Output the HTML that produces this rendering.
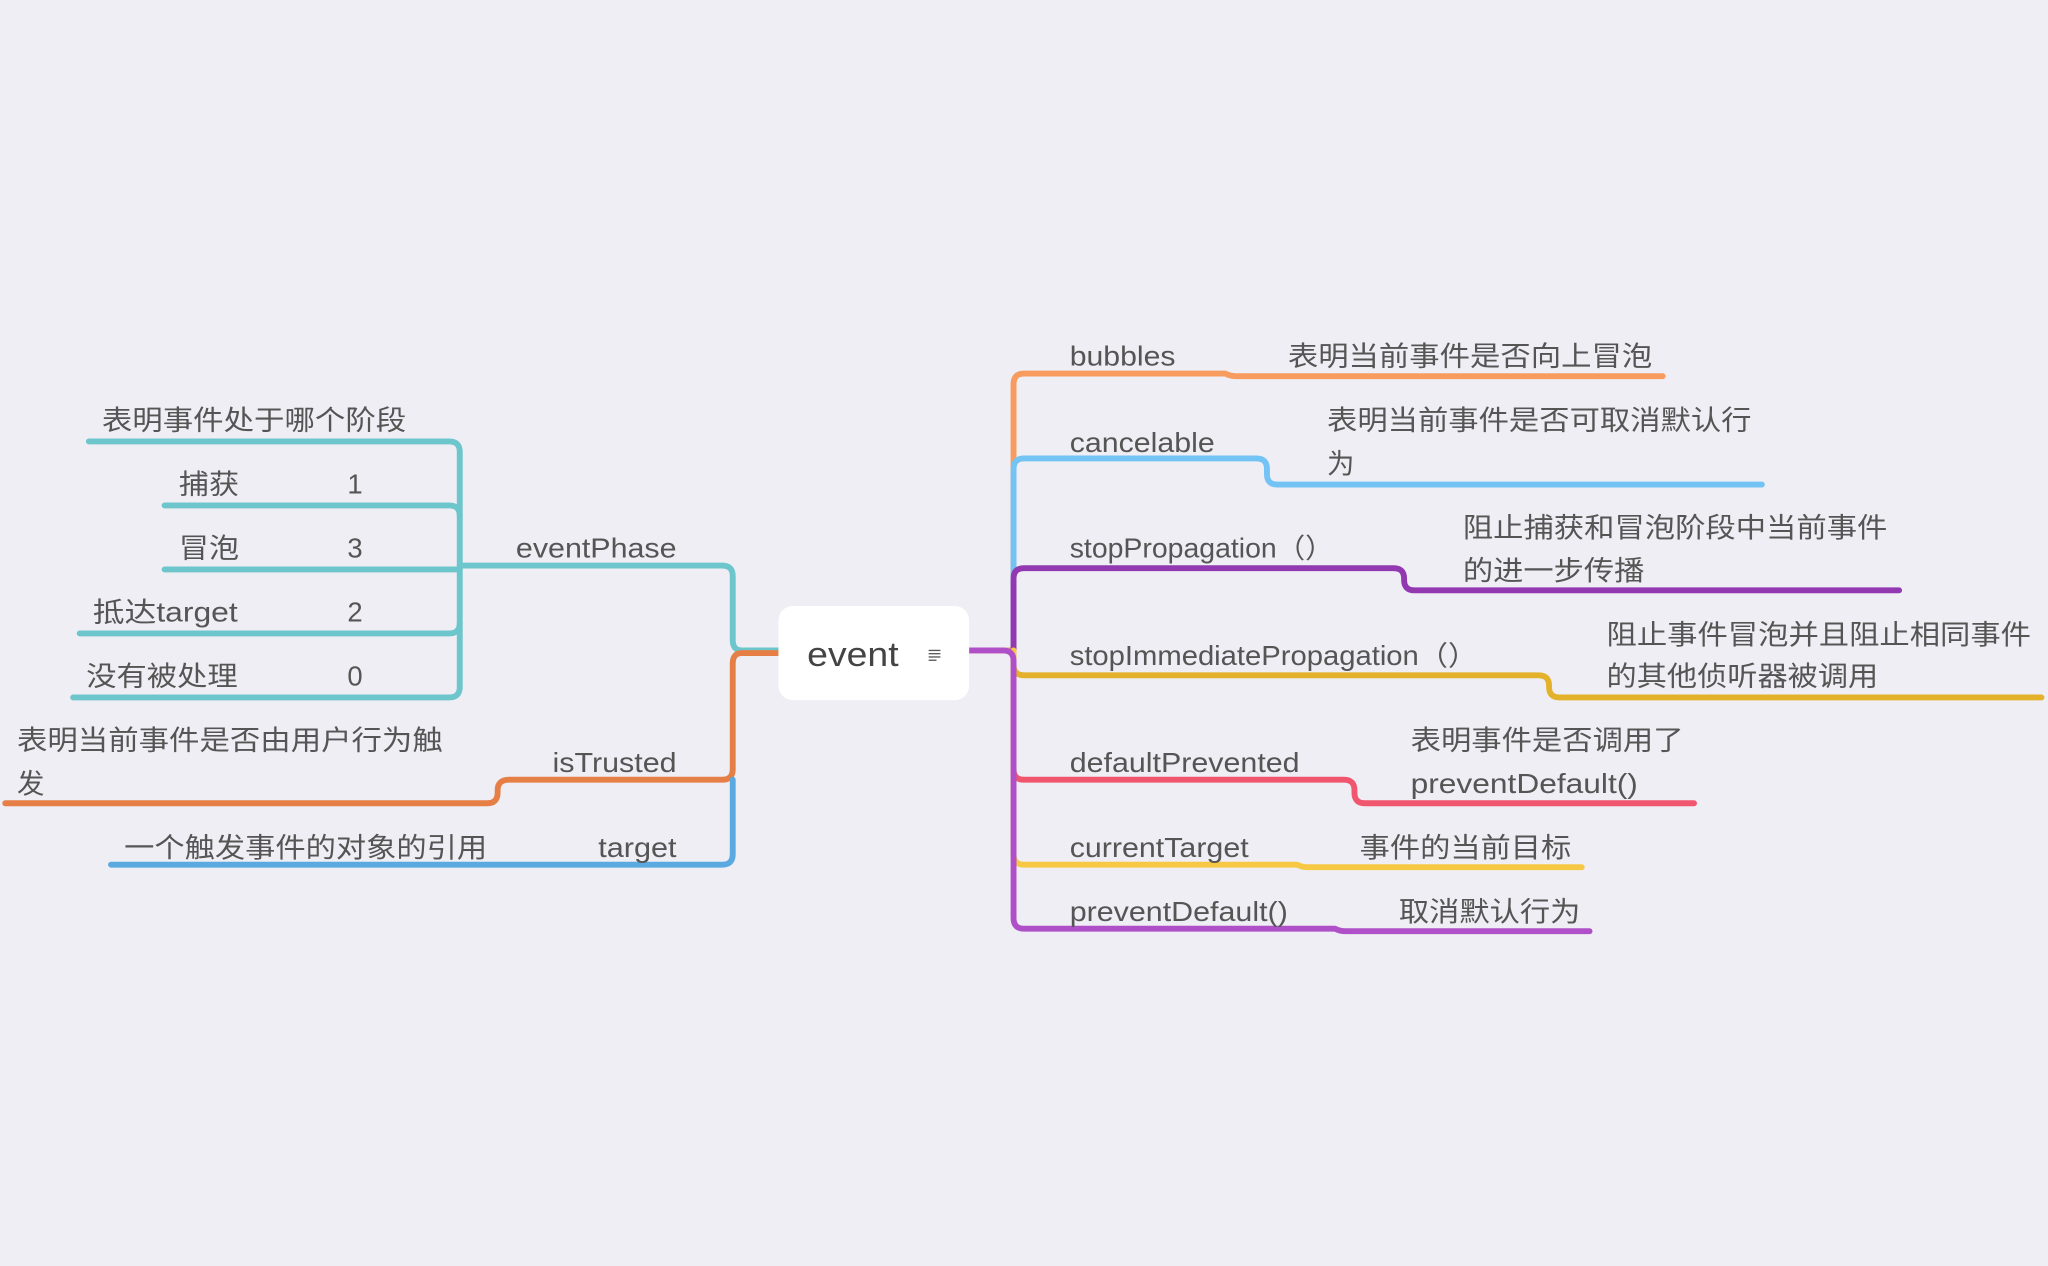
<!DOCTYPE html>
<html><head><meta charset="utf-8"><style>
html,body{margin:0;padding:0;background:#efeef4;}
svg{display:block;}
text{font-family:"Liberation Sans","Noto Sans CJK SC",sans-serif;fill:#555;font-size:21px;}
path{fill:none;stroke-width:4.5;stroke-linecap:round;stroke-linejoin:round;}
</style></head><body>
<svg width="2048" height="1266" viewBox="0 0 1568 969.3" preserveAspectRatio="none" xmlns="http://www.w3.org/2000/svg">
<rect width="1568" height="970" fill="#efeef4"/>
<path stroke="#6cc6cc" d="M596 498 H568 Q561 498 561 490 V441 Q561 433 553 433 H352"/>
<path stroke="#6cc6cc" d="M68 338 H344 Q352 338 352 346 V526 Q352 534 344 534 H56"/>
<path stroke="#6cc6cc" d="M126 387 H344 Q352 387 352 395"/>
<path stroke="#6cc6cc" d="M126 436 H352"/>
<path stroke="#6cc6cc" d="M61 485 H344 Q352 485 352 477"/>
<path stroke="#e57f45" d="M596 500 H568 Q561 500 561 508 V589 Q561 597 553 597 H390 Q381 597 381 605 V607 Q381 615 373 615 H4"/>
<path stroke="#5aa9e0" d="M561 597 V654 Q561 662 553 662 H85"/>
<path stroke="#f79b5e" d="M742 498 H776 V294 Q776 286 784 286 H938 Q942 288 946 288 H1273"/>
<path stroke="#74c3f5" d="M776 498 V359 Q776 351 784 351 H962 Q970 351 970 359 V363 Q970 371 978 371 H1349"/>
<path stroke="#9238b0" d="M776 498 V443 Q776 435 784 435 H1067 Q1075 435 1075 443 V444 Q1075 452 1083 452 H1454"/>
<path stroke="#e3b22a" d="M776 498 V509 Q776 517 784 517 H1178 Q1186 517 1186 525 V526 Q1186 534 1194 534 H1563"/>
<path stroke="#f0566e" d="M776 498 V589 Q776 597 784 597 H1029 Q1037 597 1037 605 V607 Q1037 615 1045 615 H1297"/>
<path stroke="#f7c843" d="M776 498 V654 Q776 662 784 662 H993 Q997 664 1001 664 H1211"/>
<path stroke="#b050c8" d="M742 498 H768 Q776 498 776 506 V703 Q776 711 784 711 H1022 Q1026 713 1030 713 H1217"/>
<rect x="596" y="464" width="146" height="72" rx="11" fill="#fff"/>
<text x="618" y="510" style="font-size:26px;fill:#444" textLength="70" lengthAdjust="spacingAndGlyphs">event</text>
<g stroke="#555" stroke-width="1"><line x1="711" y1="498" x2="720" y2="498"/><line x1="711" y1="500.5" x2="720" y2="500.5"/><line x1="711" y1="503" x2="720" y2="503"/><line x1="711" y1="505.5" x2="717" y2="505.5"/></g>
<text x="78" y="329" textLength="233" lengthAdjust="spacingAndGlyphs">表明事件处于哪个阶段</text>
<text x="137" y="378" textLength="46" lengthAdjust="spacingAndGlyphs">捕获</text><text x="266" y="378">1</text>
<text x="137" y="427" textLength="46" lengthAdjust="spacingAndGlyphs">冒泡</text><text x="266" y="427">3</text>
<text x="71" y="476" textLength="111" lengthAdjust="spacingAndGlyphs">抵达target</text><text x="266" y="476">2</text>
<text x="66" y="525" textLength="116" lengthAdjust="spacingAndGlyphs">没有被处理</text><text x="266" y="525">0</text>
<text x="395" y="427" textLength="123" lengthAdjust="spacingAndGlyphs">eventPhase</text>
<text x="13" y="574" textLength="326" lengthAdjust="spacingAndGlyphs">表明当前事件是否由用户行为触</text>
<text x="13" y="607">发</text>
<text x="423" y="591" textLength="95" lengthAdjust="spacingAndGlyphs">isTrusted</text>
<text x="95" y="656" textLength="278" lengthAdjust="spacingAndGlyphs">一个触发事件的对象的引用</text>
<text x="458" y="656" textLength="60" lengthAdjust="spacingAndGlyphs">target</text>
<text x="819" y="280" textLength="81" lengthAdjust="spacingAndGlyphs">bubbles</text>
<text x="986" y="280" textLength="279" lengthAdjust="spacingAndGlyphs">表明当前事件是否向上冒泡</text>
<text x="819" y="346" textLength="111" lengthAdjust="spacingAndGlyphs">cancelable</text>
<text x="1016" y="329" textLength="325" lengthAdjust="spacingAndGlyphs">表明当前事件是否可取消默认行</text>
<text x="1016" y="362">为</text>
<text x="819" y="427" textLength="202" lengthAdjust="spacingAndGlyphs">stopPropagation（）</text>
<text x="1120" y="411" textLength="325" lengthAdjust="spacingAndGlyphs">阻止捕获和冒泡阶段中当前事件</text>
<text x="1120" y="444" textLength="139" lengthAdjust="spacingAndGlyphs">的进一步传播</text>
<text x="819" y="509" textLength="312" lengthAdjust="spacingAndGlyphs">stopImmediatePropagation（）</text>
<text x="1230" y="493" textLength="325" lengthAdjust="spacingAndGlyphs">阻止事件冒泡并且阻止相同事件</text>
<text x="1230" y="525" textLength="208" lengthAdjust="spacingAndGlyphs">的其他侦听器被调用</text>
<text x="819" y="591" textLength="176" lengthAdjust="spacingAndGlyphs">defaultPrevented</text>
<text x="1080" y="574" textLength="209" lengthAdjust="spacingAndGlyphs">表明事件是否调用了</text>
<text x="1080" y="607" textLength="174" lengthAdjust="spacingAndGlyphs">preventDefault()</text>
<text x="819" y="656" textLength="137" lengthAdjust="spacingAndGlyphs">currentTarget</text>
<text x="1041" y="656" textLength="162" lengthAdjust="spacingAndGlyphs">事件的当前目标</text>
<text x="819" y="705" textLength="167" lengthAdjust="spacingAndGlyphs">preventDefault()</text>
<text x="1071" y="705" textLength="139" lengthAdjust="spacingAndGlyphs">取消默认行为</text>
</svg>
</body></html>
